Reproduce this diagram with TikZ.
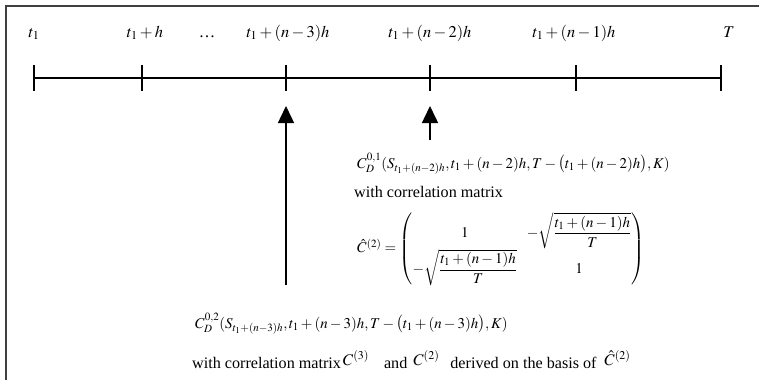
\documentclass[tikz,border=0pt]{standalone}
\usepackage{amsmath,amssymb}
\usepackage{mathptmx}
\usepackage{fontspec}
\setmainfont{Liberation Serif}
\usepackage{xcolor}
\usepackage{tikz}
\usetikzlibrary{arrows.meta}

\begin{document}
\begin{tikzpicture}[x=1bp, y=-1bp,
    frame/.style={draw=black!75, line width=2.5bp},
    axisline/.style={line width=1.3bp},
    tick/.style={line width=1.3bp},
    ticklbl/.style={anchor=base, font=\fontsize{16.5}{19}\selectfont, inner sep=0pt},
    txt/.style={anchor=base west, font=\fontsize{15}{18}\selectfont, inner sep=0pt},
    arr/.style={-{Triangle[length=17bp, width=16bp]}, line width=1.5bp},
]
\useasboundingbox (0,0) rectangle (759,380);

% Frame (top and left)
\draw[frame] (6,380) -- (6,6) -- (759,6);

% Time axis
\coordinate (a0) at (34,78);
\coordinate (a5) at (721,78);
\draw[axisline] (a0) -- (a5);
\foreach \x/\n in {34/0, 142/1, 286/3, 430/4, 576/5, 721/6} {
  \draw[tick] (\x,65) -- (\x,91);
  \coordinate (k\n) at (\x,91);
}

% Tick labels
\node[ticklbl] (l0) at (34,37) {$t_1$};
\node[ticklbl] (l1) at (145,37) {$t_1+h$};
\node[ticklbl] (ld) at (207,37) {\ldots};
\node[ticklbl] (l3) at (288,37) {$t_1+(n-3)h$};
\node[ticklbl] (l4) at (430,37) {$t_1+(n-2)h$};
\node[ticklbl] (l5) at (574,37) {$t_1+(n-1)h$};
\node[ticklbl] (l6) at (729,37) {$T$};

% Upper text block
\node[txt] (c01) at (357,168)
  {$C_D^{0,1}(S_{t_1+(n-2)h}, t_1+(n-2)h, T-\bigl(t_1+(n-2)h\bigr), K)$};
\node[txt, font=\fontsize{16.2}{19}\selectfont] (w1) at (354,197) {with correlation matrix};
\node[anchor=west, inner sep=0pt, font=\fontsize{15}{18}\selectfont] (mat) at (357,249)
  {$\hat{C}^{(2)}=\begin{pmatrix}
     1 & -\sqrt{\dfrac{t_1+(n-1)h}{T}}\\[5pt]
     -\sqrt{\dfrac{t_1+(n-1)h}{T}} & 1
   \end{pmatrix}$};

% Lower text block
\node[txt] (c02) at (195,328)
  {$C_D^{0,2}(S_{t_1+(n-3)h}, t_1+(n-3)h, T-\bigl(t_1+(n-3)h\bigr), K)$};
\node[txt, font=\fontsize{16.2}{19}\selectfont] (w2) at (192,368)
  {with correlation matrix\hspace{2bp}\raisebox{3bp}{$C^{(3)}$}\hspace{15bp}and\hspace{6bp}\raisebox{3bp}{$C^{(2)}$}\hspace{11bp}derived on the basis of\hspace{8bp}\raisebox{3bp}{$\hat{C}^{(2)}$}};

% Arrows
\coordinate (s1) at (286,285);
\coordinate (e1) at (286,106);
\coordinate (s2) at (430,140);
\coordinate (e2) at (430,106);
\draw[arr] (s1) -- (e1);
\draw[arr] (s2) -- (e2);

\end{tikzpicture}
\end{document}
